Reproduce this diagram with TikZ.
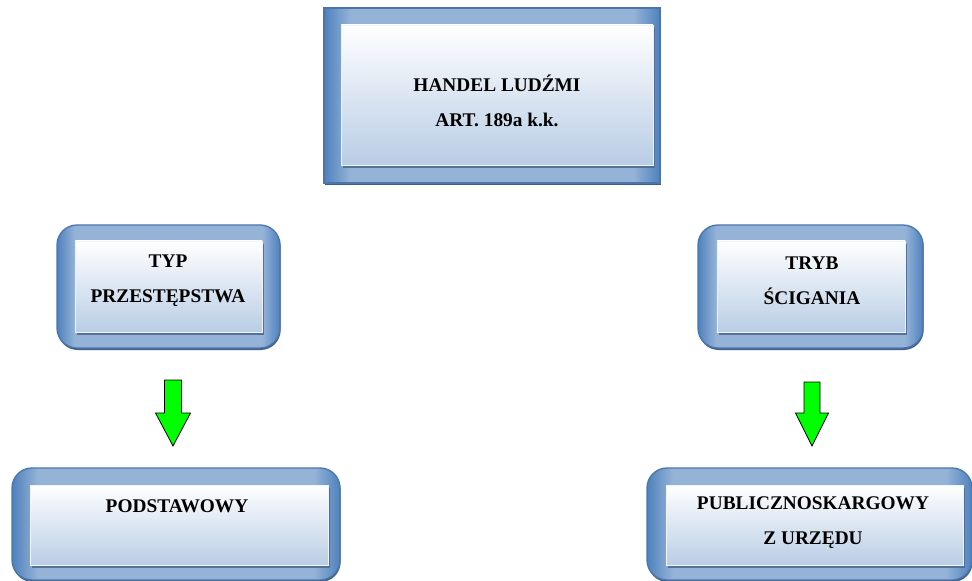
\documentclass[tikz,border=0pt]{standalone}
\usepackage{fontspec}
\setmainfont{Liberation Serif}
\usetikzlibrary{shadows}

\definecolor{frameLight}{HTML}{95B3D7}
\definecolor{frameDark}{HTML}{4F81BD}
\definecolor{frameEdge}{HTML}{4A76AC}
\definecolor{frameShadow}{HTML}{2E4E78}
\definecolor{boxBottom}{HTML}{B9CDE5}
\definecolor{boxShadow}{HTML}{4D6B93}
\definecolor{arrowGreen}{HTML}{00FF00}

\pgfdeclarehorizontalshading{framebevel}{100bp}{color(0bp)=(frameDark); color(25bp)=(frameDark); color(29bp)=(frameLight); color(71bp)=(frameLight); color(75bp)=(frameDark); color(100bp)=(frameDark)}

\begin{document}
\begin{tikzpicture}[x=0.75pt, y=-0.75pt,
  frame/.style={shading=framebevel, draw=frameEdge, line width=1pt,
    inner sep=0pt, outer sep=0pt,
    drop shadow={shadow xshift=0.5pt, shadow yshift=-1.5pt, fill=frameShadow, opacity=0.9}},
  roundframe/.style={frame, rounded corners=15pt},
  box/.style={top color=white, bottom color=boxBottom, draw=white!85!frameLight, line width=0.6pt,
    inner sep=0pt, outer sep=0pt,
    drop shadow={shadow xshift=1.2pt, shadow yshift=-2.2pt, fill=boxShadow, opacity=0.9}},
  label/.style={font=\bfseries\fontsize{14.5}{26.25}\selectfont, align=center, inner sep=0pt},
  greenarrow/.style={fill=arrowGreen, draw=black, line width=0.6pt, line join=miter}]
\useasboundingbox (0,0) rectangle (972,581);
%
% top box
\node[frame, minimum width=252pt, minimum height=131.25pt] (handelFrame) at (492,95.5) {};
\node[box, minimum width=234pt, minimum height=105pt] (handelBox) at (497,95) {};
\node[label] (handel) at (497,101) {HANDEL LUDŹMI\\ART. 189a k.k.};
%
% middle boxes
\node[roundframe, minimum width=167.25pt, minimum height=92.25pt] (typFrame) at (168.5,286.5) {};
\node[box, minimum width=140.25pt, minimum height=68.25pt] (typBox) at (168.5,286.5) {};
\node[label] (typ) at (168,281) {TYP\\PRZESTĘPSTWA};
%
\node[roundframe, minimum width=168.75pt, minimum height=92.25pt] (trybFrame) at (810.5,286.5) {};
\node[box, minimum width=141pt, minimum height=68.25pt] (trybBox) at (811,286.5) {};
\node[label] (tryb) at (812,281) {TRYB\\ŚCIGANIA};
%
% bottom boxes
\node[roundframe, minimum width=246pt, minimum height=84pt] (podstFrame) at (176,524) {};
\node[box, minimum width=223.5pt, minimum height=60pt] (podstBox) at (179,525) {};
\node[label] (podst) at (177,506) {PODSTAWOWY};
%
\node[roundframe, minimum width=243.75pt, minimum height=84pt] (publFrame) at (809.5,524) {};
\node[box, minimum width=222.75pt, minimum height=60pt] (publBox) at (814.5,525) {};
\node[label] (publ) at (813,523) {PUBLICZNOSKARGOWY\\Z URZĘDU};
%
% arrows
\coordinate (arrL) at (173,380);
\coordinate (arrR) at (812,382);
\draw[greenarrow] (arrL) -- ++(8.5,0) -- ++(0,33) -- ++(9,0) -- ++(-17.5,33)
  -- ++(-17.5,-33) -- ++(9,0) -- ++(0,-33) -- cycle;
\draw[greenarrow] (arrR) -- ++(8,0) -- ++(0,31) -- ++(8.5,0) -- ++(-16.5,33)
  -- ++(-16.5,-33) -- ++(8.5,0) -- ++(0,-31) -- cycle;
\end{tikzpicture}
\end{document}
